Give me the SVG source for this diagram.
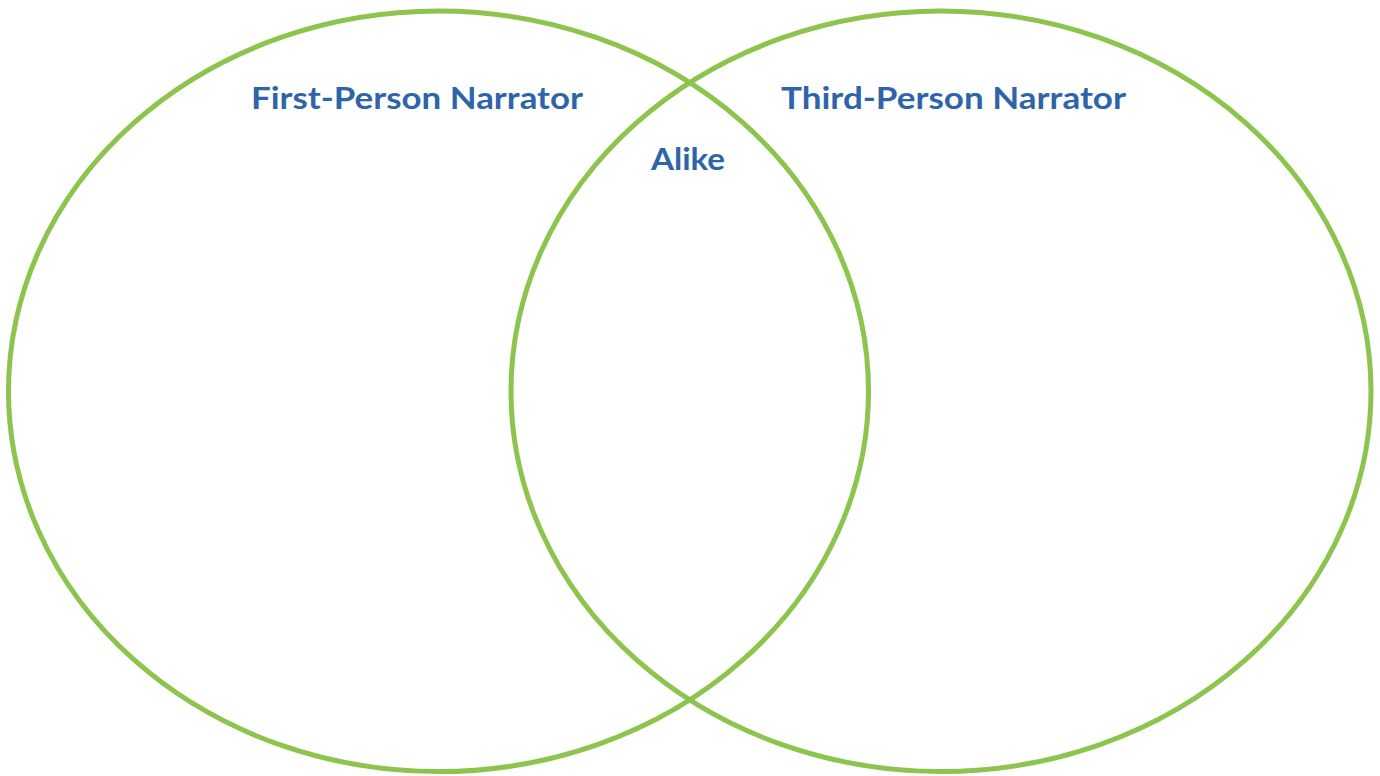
<svg xmlns="http://www.w3.org/2000/svg" width="1380" height="776" viewBox="0 0 1380 776">
<style>
.ring{fill:none;stroke:#8dc44e;stroke-width:5}
.lbl{font-family:Lato,"Open Sans","Liberation Sans",sans-serif;font-weight:bold;font-size:31px;fill:#2e65a9;text-anchor:middle}
</style>
<rect width="1380" height="776" fill="#ffffff"/>
<g id="first-person">
<ellipse class="ring" cx="438.5" cy="391.3" rx="430" ry="380.3"/>
<text class="lbl" x="417" y="109" textLength="332" lengthAdjust="spacingAndGlyphs">First-Person Narrator</text>
</g>
<g id="third-person">
<ellipse class="ring" cx="941" cy="391.3" rx="430" ry="380.3"/>
<text class="lbl" x="953.5" y="109" textLength="345" lengthAdjust="spacingAndGlyphs">Third-Person Narrator</text>
</g>
<g id="alike">
<text class="lbl" x="688" y="170" textLength="74" lengthAdjust="spacingAndGlyphs">Alike</text>
</g>
<g id="connectors"></g>
</svg>
